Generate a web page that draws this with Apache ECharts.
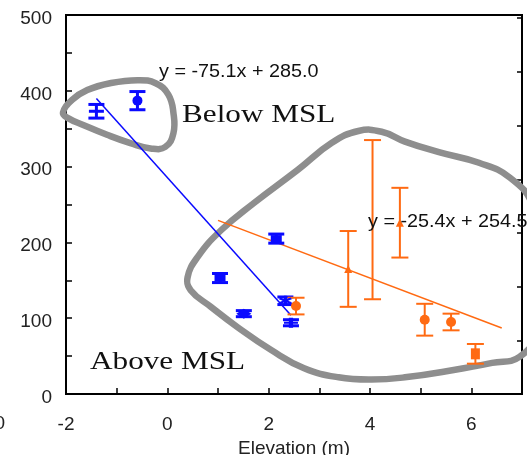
<!DOCTYPE html>
<html>
<head>
<meta charset="utf-8">
<script src="https://cdn.jsdelivr.net/npm/echarts@6/dist/echarts.min.js"></script>
<style>
html,body{margin:0;padding:0;background:#fff;}
#chart{width:527px;height:455px;}
</style>
</head>
<body>
<div id="chart"></div>
<script>
// ---- data ----
var blueX   = [-1.40, -0.59, 1.04, 1.51, 2.15, 2.33, 2.44];
var blueY   = [373, 387, 153, 106, 205, 123, 94];
var blueErr = [9, 12, 6, 4, 6, 5, 4];

var orangeX   = [2.54, 3.57, 4.05, 4.59, 5.08, 5.60, 6.08];
var orangeY   = [116, 165, 230, 226, 98, 95, 53];
var orangeErr = [11, 50, 105, 46, 21, 11, 13];

var blueFitX = [-1.40, 2.44];
var blueFitY = [390, 104];
var orangeFitX = [1.00, 6.60];
var orangeFitY = [229, 87];

var xTicks = [-2, 0, 2, 4, 6];
var yTicks = [0, 100, 200, 300, 400, 500];

var blueEquation = 'y = -75.1x + 285.0';
var orangeEquation = 'y = -25.4x + 254.5';
var xTitle = 'Elevation (m)';

// hand-drawn annotation loops (data coordinates)
var loopBelowX = [-2.06,-1.88,-1.58,-1.13,-0.59,-0.23,0.02,0.12,0.12,-0.04,-0.33,-0.73,-1.19,-1.66,-1.96];
var loopBelowY = [371,388,401,410,414,410,395,371,344,326,324,331,342,355,364];
var loopAboveX = [0.40,0.60,1.06,1.71,2.58,3.24,3.77,4.23,4.69,5.36,6.15,6.75,7.21,7.40,7.31,6.95,6.41,5.68,4.69,4.03,3.38,2.70,2.05,1.39,0.86,0.46];
var loopAboveY = [154,181,216,252,296,331,347,346,333,319,305,286,249,177,84,49,41,32,22,19,22,34,58,88,115,137];

// ---- styles ----
var BLUE = '#0a0aff';
var ORANGE = '#ff6a12';
var GREY = '#8e8e8e';
var PLUS = 'path://M0,4H3.5V0H6.5V4H10V6H6.5V10H3.5V6H0Z';
var STAR = 'path://M4,0H6V3.3L8.8,1.7L9.8,3.4L7,5L9.8,6.6L8.8,8.3L6,6.7V10H4V6.7L1.2,8.3L0.2,6.6L3,5L0.2,3.4L1.2,1.7L4,3.3Z';
var blueMarkers = [['rect',[15,3]],['circle',10],['rect',[11,7]],['diamond',[15,10]],['rect',[11,7]],[STAR,[13,10]],[PLUS,[14,10]]];
var orangeMarkers = [['circle',10],['triangle',8],['none',0],['triangle',8],['circle',10],['circle',10],['rect',[9,11]]];

function zip3(a,b,c){var r=[];for(var i=0;i<a.length;i++)r.push([a[i],b[i],c[i]]);return r;}
function zip2(a,b){var r=[];for(var i=0;i<a.length;i++)r.push([a[i],b[i]]);return r;}
function markers(xs,ys,m){var r=[];for(var i=0;i<xs.length;i++)r.push({value:[xs[i],ys[i]],symbol:m[i][0],symbolSize:m[i][1]});return r;}

function errorBars(color, width, cap){
  return function(params, api){
    var x=api.value(0), y=api.value(1), e=api.value(2);
    var t=api.coord([x,y+e]), b=api.coord([x,y-e]);
    var st={stroke:color,lineWidth:width,fill:null};
    return {type:'group',children:[
      {type:'line',shape:{x1:t[0],y1:t[1],x2:b[0],y2:b[1]},style:st},
      {type:'line',shape:{x1:t[0]-cap,y1:t[1],x2:t[0]+cap,y2:t[1]},style:st},
      {type:'line',shape:{x1:b[0]-cap,y1:b[1],x2:b[0]+cap,y2:b[1]},style:st}
    ]};
  };
}
function loop(xs, ys){
  return function(params, api){
    var pts=[];
    for(var i=0;i<xs.length;i++) pts.push(api.coord([xs[i],ys[i]]));
    return {type:'polygon',shape:{points:pts,smooth:0.45},style:{fill:null,stroke:GREY,lineWidth:6.5}};
  };
}

var chart = echarts.init(document.getElementById('chart'), null, {renderer:'canvas'});
var FONT = 'Liberation Sans, Arial, Helvetica, sans-serif';
var SERIF = 'Liberation Serif, Times New Roman, serif';

chart.setOption({
  animation:false,
  grid:{left:66,right:5,top:15,bottom:61,containLabel:false,outerBoundsMode:'none',show:true,borderColor:'#000',borderWidth:2},
  xAxis:{type:'value',min:-2,max:7,interval:1,
    axisLine:{onZero:false,lineStyle:{color:'#000',width:2}},
    axisTick:{inside:true,length:6,lineStyle:{color:'#000',width:1.5}},
    splitLine:{show:false},
    axisLabel:{margin:21,color:'#222',fontSize:19,fontFamily:FONT,
      formatter:function(v){return xTicks.indexOf(v)>=0?String(v):'';}},
    name:xTitle,nameLocation:'middle',nameGap:42,
    nameTextStyle:{color:'#222',fontSize:19,fontFamily:FONT}
  },
  yAxis:[{type:'value',min:0,max:500,interval:50,
    axisLine:{show:true,onZero:false,lineStyle:{color:'#000',width:2}},
    axisTick:{show:true,inside:true,length:6,lineStyle:{color:'#000',width:1.5}},
    splitLine:{show:false},
    axisLabel:{margin:14,color:'#222',fontSize:19,fontFamily:FONT,
      rich:{t:{color:'#222',fontSize:19,fontFamily:FONT,padding:[7,0,0,0]}},
      formatter:function(v){return yTicks.indexOf(v)>=0?'{t|'+v+'}':'';}}
  },{type:'value',position:'right',min:0,max:7.06,interval:1,
    axisLine:{show:false,onZero:false},
    axisTick:{show:true,inside:true,length:5,lineStyle:{color:'#000',width:1.5}},
    splitLine:{show:false},axisLabel:{show:false}
  }],
  graphic:[
    {type:'text',x:159,y:72,scaleX:1.1,style:{text:blueEquation,fontSize:18,fontFamily:FONT,fill:'#111',verticalAlign:'middle'},z:100},
    {type:'text',x:368,y:222,scaleX:1.1,style:{text:orangeEquation,fontSize:18,fontFamily:FONT,fill:'#111',verticalAlign:'middle'},z:100},
    {type:'text',x:182,y:115,scaleX:1.2,style:{text:'Below MSL',fontSize:26,fontFamily:SERIF,fill:'#111',verticalAlign:'middle'},z:100},
    {type:'text',x:90,y:362,scaleX:1.2,style:{text:'Above MSL',fontSize:26,fontFamily:SERIF,fill:'#111',verticalAlign:'middle'},z:100},
    {type:'text',x:5,y:424,style:{text:'0',fontSize:19,fontFamily:FONT,fill:'#222',align:'right',verticalAlign:'middle'},z:100}
  ],
  series:[
    {type:'custom',renderItem:loop(loopBelowX,loopBelowY),data:[[0,0]],clip:false,z:1,silent:true},
    {type:'custom',renderItem:loop(loopAboveX,loopAboveY),data:[[0,0]],clip:false,z:1,silent:true},
    {type:'line',data:zip2(blueFitX,blueFitY),symbol:'none',lineStyle:{color:BLUE,width:1.5},z:2},
    {type:'line',data:zip2(orangeFitX,orangeFitY),symbol:'none',lineStyle:{color:ORANGE,width:1.5},z:2},
    {type:'custom',renderItem:errorBars(BLUE,3,8),data:zip3(blueX,blueY,blueErr),z:3},
    {type:'custom',renderItem:errorBars(ORANGE,2,8.5),data:zip3(orangeX,orangeY,orangeErr),z:3},
    {type:'scatter',data:markers(blueX,blueY,blueMarkers),itemStyle:{color:BLUE,opacity:1},z:4},
    {type:'scatter',data:markers(orangeX,orangeY,orangeMarkers),itemStyle:{color:ORANGE,opacity:1},z:4}
  ]
});
</script>
</body>
</html>
